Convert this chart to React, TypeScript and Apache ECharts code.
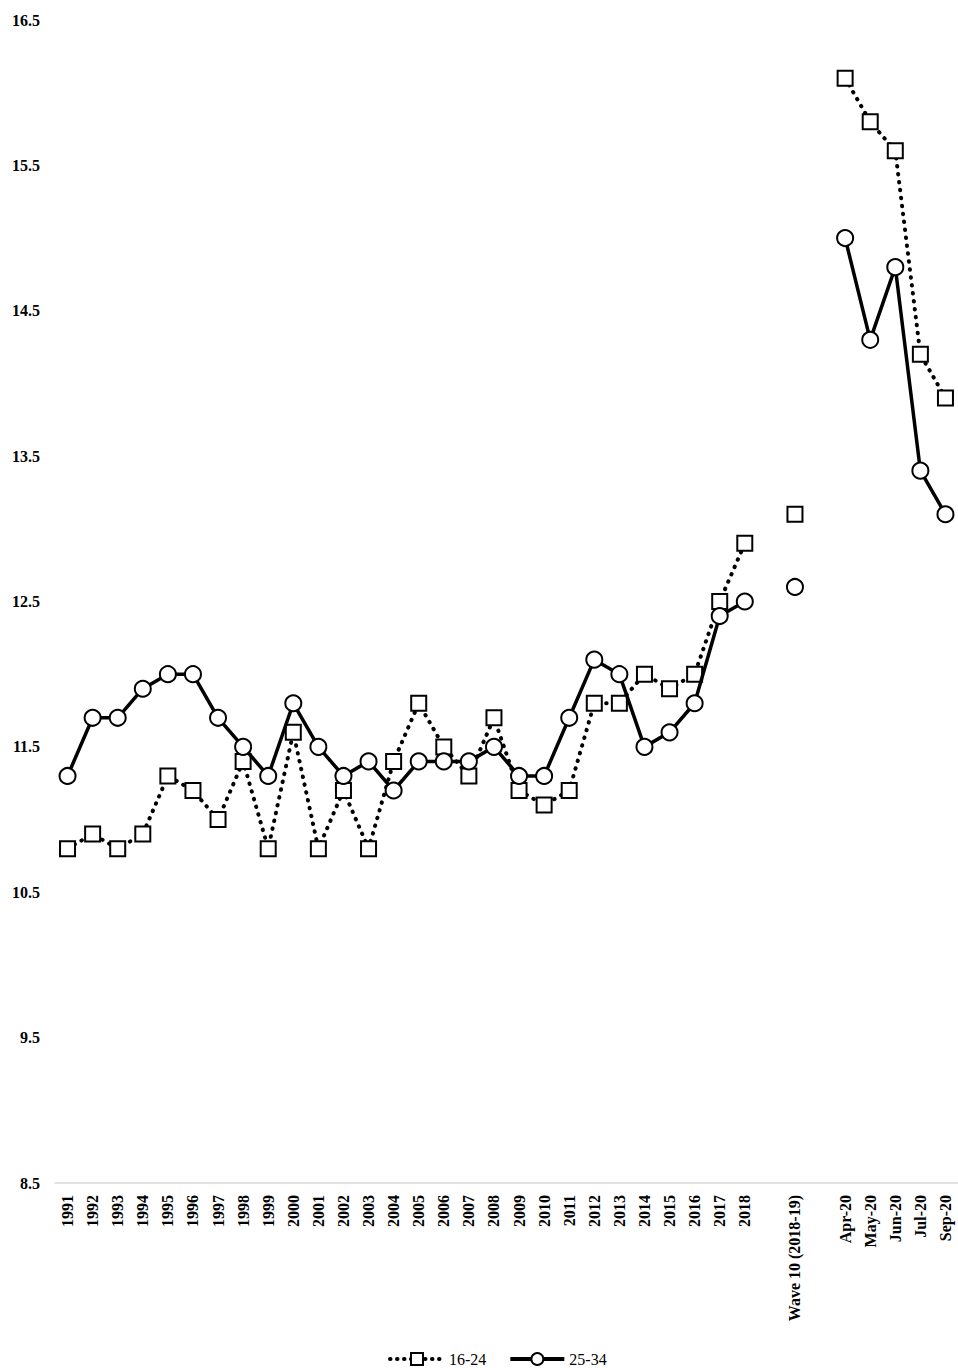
import React, { useEffect, useRef } from "react";
import * as echarts from "echarts";

const categories: string[] = [
  "1991", "1992", "1993", "1994", "1995", "1996", "1997", "1998", "1999", "2000",
  "2001", "2002", "2003", "2004", "2005", "2006", "2007", "2008", "2009", "2010",
  "2011", "2012", "2013", "2014", "2015", "2016", "2017", "2018",
  "", "Wave 10 (2018-19)", " ",
  "Apr-20", "May-20", "Jun-20", "Jul-20", "Sep-20",
];

const age16to24: (number | null)[] = [
  10.8, 10.9, 10.8, 10.9, 11.3, 11.2, 11.0, 11.4, 10.8, 11.6,
  10.8, 11.2, 10.8, 11.4, 11.8, 11.5, 11.3, 11.7, 11.2, 11.1,
  11.2, 11.8, 11.8, 12.0, 11.9, 12.0, 12.5, 12.9,
  null, 13.1, null,
  16.1, 15.8, 15.6, 14.2, 13.9,
];

const age25to34: (number | null)[] = [
  11.3, 11.7, 11.7, 11.9, 12.0, 12.0, 11.7, 11.5, 11.3, 11.8,
  11.5, 11.3, 11.4, 11.2, 11.4, 11.4, 11.4, 11.5, 11.3, 11.3,
  11.7, 12.1, 12.0, 11.5, 11.6, 11.8, 12.4, 12.5,
  null, 12.6, null,
  15.0, 14.3, 14.8, 13.4, 13.1,
];

const FONT = "'Palatino Linotype', 'Book Antiqua', Palatino, 'Liberation Serif', serif";

export default function App() {
  const ref = useRef<HTMLDivElement>(null);
  useEffect(() => {
    if (!ref.current) return;
    const chart = echarts.init(ref.current, null, { renderer: "svg" });
    chart.setOption({
      animation: false,
      backgroundColor: "#ffffff",
      textStyle: { fontFamily: FONT },
      grid: { left: 55, right: 0, top: 20, bottom: 185 },
      legend: {
        top: 1346,
        left: 383,
        itemWidth: 54,
        itemHeight: 15,
        itemGap: 22,
        textStyle: { fontFamily: FONT, fontSize: 16, color: "#000" },
        data: [
          { name: "16-24", lineStyle: { width: 4, type: [0.5, 6.5], cap: "round" } },
          { name: "25-34", lineStyle: { width: 4 } },
        ],
      },
      xAxis: {
        type: "category",
        data: categories,
        boundaryGap: true,
        axisLine: { show: true, lineStyle: { color: "#d9d9d9", width: 1.5 } },
        axisTick: { show: false },
        axisLabel: {
          rotate: 90,
          interval: 0,
          fontFamily: FONT,
          fontSize: 16,
          fontWeight: "bold",
          color: "#000",
          margin: 12,
        },
        splitLine: { show: false },
      },
      yAxis: {
        type: "value",
        min: 8.5,
        max: 16.5,
        interval: 1,
        axisLine: { show: false },
        axisTick: { show: false },
        splitLine: { show: false },
        axisLabel: {
          fontFamily: FONT,
          fontSize: 16,
          fontWeight: "bold",
          color: "#000",
          margin: 15,
          formatter: (v: number) => v.toFixed(1),
        },
      },
      series: [
        {
          name: "16-24",
          type: "line",
          data: age16to24,
          connectNulls: false,
          symbol: "rect",
          symbolSize: 15,
          showAllSymbol: true,
          itemStyle: { color: "#ffffff", borderColor: "#000", borderWidth: 2 },
          lineStyle: { color: "#000", width: 4, type: [0.5, 7.5], cap: "round" },
          z: 2,
        },
        {
          name: "25-34",
          type: "line",
          data: age25to34,
          connectNulls: false,
          symbol: "circle",
          symbolSize: 16,
          showAllSymbol: true,
          itemStyle: { color: "#ffffff", borderColor: "#000", borderWidth: 2 },
          lineStyle: { color: "#000", width: 3.5, type: "solid" },
          z: 3,
        },
      ],
    });
    return () => chart.dispose();
  }, []);
  return (
    <div
      ref={ref}
      style={{ position: "absolute", left: 0, top: 0, width: 958, height: 1368 }}
    />
  );
}
